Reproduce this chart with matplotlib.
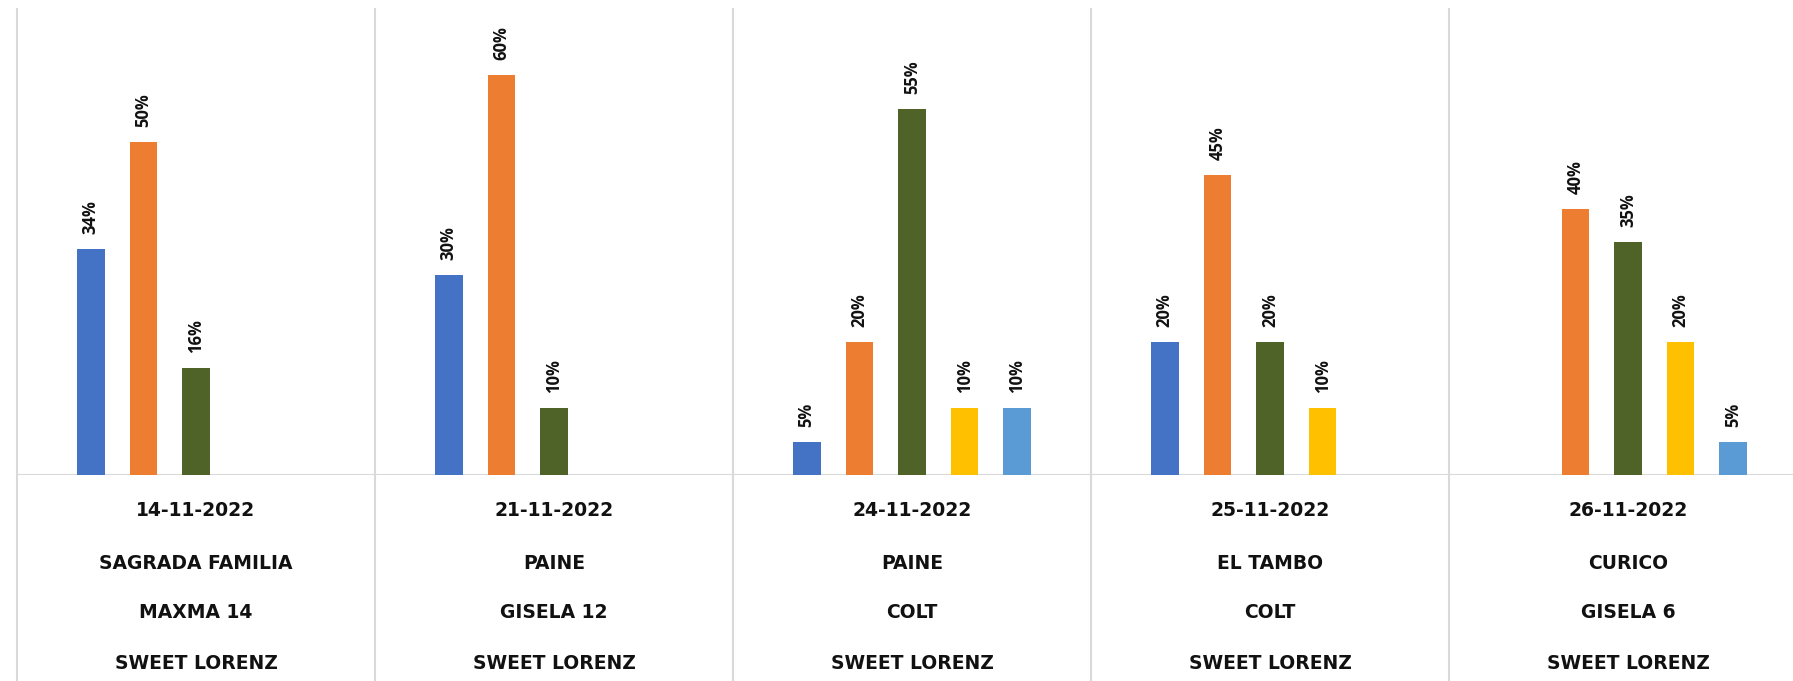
import numpy as np
import matplotlib.pyplot as plt
from matplotlib.transforms import blended_transform_factory

# one entry per group (date / location / rootstock / variety)
fechas = ['14-11-2022', '21-11-2022', '24-11-2022', '25-11-2022', '26-11-2022']
lugares = ['SAGRADA FAMILIA', 'PAINE', 'PAINE', 'EL TAMBO', 'CURICO']
portainjertos = ['MAXMA 14', 'GISELA 12', 'COLT', 'COLT', 'GISELA 6']
variedades = ['SWEET LORENZ'] * 5

# percentages per series (0 = no bar)
serie1 = [34, 30, 5, 20, 0]
serie2 = [50, 60, 20, 45, 40]
serie3 = [16, 10, 55, 20, 35]
serie4 = [0, 0, 10, 10, 20]
serie5 = [0, 0, 10, 0, 5]

colores = ['#4472C4', '#ED7D31', '#4F6228', '#FFC000', '#5B9BD5']
series = [serie1, serie2, serie3, serie4, serie5]

fig = plt.figure(figsize=(17.93, 6.81), dpi=100)
ax = fig.add_axes([17/1793, 0.3025, 1790/1793, 0.6845])

x = np.arange(len(fechas))
paso = 0.147
ancho = 0.077
for i, (vals, c) in enumerate(zip(series, colores)):
    pos = x + (i - 2) * paso
    vals = np.array(vals, dtype=float)
    mask = vals > 0
    ax.bar(pos[mask], vals[mask], width=ancho, color=c, linewidth=0, zorder=3)
    for p, v in zip(pos[mask], vals[mask]):
        ax.annotate(f'{int(v)}%', (p, v), xytext=(0, 15), textcoords='offset pixels',
                    rotation=90, ha='center', va='bottom', fontsize=12,
                    fontweight='bold', family='Open Sans', color='#111111')

ax.set_xlim(-0.5, 4.5)
ax.set_ylim(0, 70)
ax.axis('off')

# separators and baseline
gris = '#D9D9D9'
for s in np.arange(-0.5, 5, 1):
    ax.plot([s, s], [1, -0.5], color=gris, lw=1.5, clip_on=False,
            transform=blended_transform_factory(ax.transData, ax.transAxes), zorder=1)
ax.axhline(0, color=gris, lw=1.5, zorder=2)

tr = blended_transform_factory(ax.transData, fig.transFigure)
filas = [fechas, lugares, portainjertos, variedades]
ys = [0.251, 0.173, 0.100, 0.026]
for fila, yy in zip(filas, ys):
    for xi, txt in zip(x, fila):
        fig.text(xi, yy, txt, transform=tr, ha='center', va='center',
                 fontsize=13.5, fontweight='bold', color='#111111')

fig.savefig('out.png', dpi=100)
